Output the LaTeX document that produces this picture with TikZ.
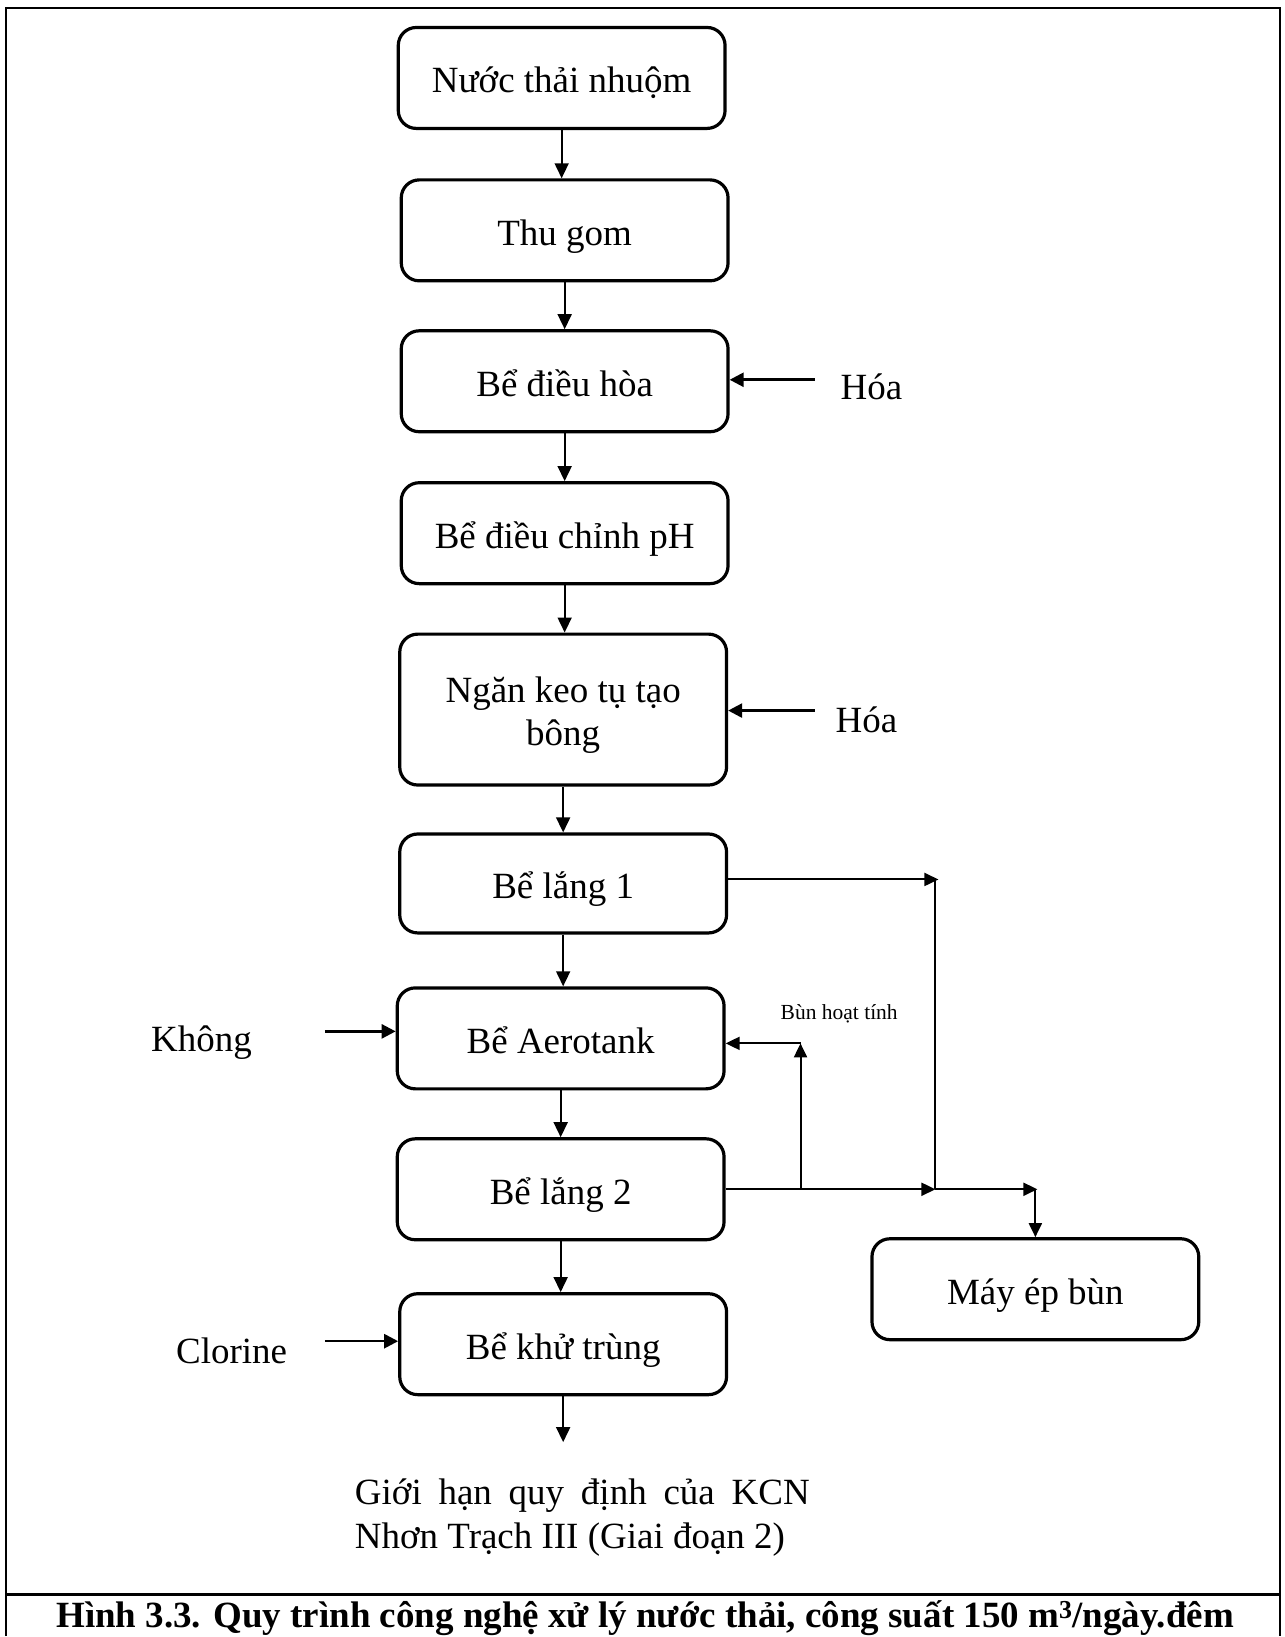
\documentclass[tikz,border=0pt]{standalone}
\usepackage{fontspec}
\setmainfont{Liberation Serif}
\usetikzlibrary{arrows.meta}
\begin{document}
\begin{tikzpicture}[x=1pt,y=-1pt,
  stage/.style={draw, line width=3.2pt, rounded corners=18pt,
    minimum width=327pt, minimum height=101pt, inner sep=0pt,
    align=center, font=\fontsize{37}{43}\selectfont,
    execute at begin node={\rule{0pt}{40pt}},
    execute at end node={\rule[-10pt]{0pt}{10pt}}},
  lbl/.style={inner sep=0pt, anchor=base west, font=\fontsize{37}{43}\selectfont},
  flow/.style={-{Triangle[length=15pt,width=14pt]}, line width=1.7pt},
  feed/.style={-{Triangle[length=14pt,width=14pt]}, line width=2.6pt},
  side/.style={-{Triangle[length=14pt,width=13pt]}, line width=2pt},
  pipe/.style={line width=2pt}]

% page background and frame
\fill[white] (0,0) rectangle (1285,1637);
\draw[line width=2pt] (6.5,1637) -- (6.5,8.5) -- (1281,8.5) -- (1281,1637);
\draw[line width=3pt] (6.5,1595) -- (1281,1595);

% process stages
\node[stage] (n1) at (562,78) {Nước thải nhuộm};
\node[stage] (n2) at (565,230.5) {Thu gom};
\node[stage] (n3) at (565,381.5) {Bể điều hòa};
\node[stage] (n4) at (565,533.5) {Bể điều chỉnh pH};
\node[stage, minimum height=151pt, execute at begin node={\rule{0pt}{82pt}}]
  (n5) at (563.5,710) {Ngăn keo tụ tạo\\bông};
\node[stage, minimum height=99pt] (n6) at (563.5,884) {Bể lắng 1};
\node[stage] (n7) at (561,1039) {Bể Aerotank};
\node[stage] (n8) at (561,1190) {Bể lắng 2};
\node[stage] (n9) at (563.5,1345) {Bể khử trùng};
\node[stage] (n10) at (1036,1290) {Máy ép bùn};

% main line
\draw[flow] (n1.south) -- (n1.south |- n2.north);
\draw[flow] (n2.south) -- (n2.south |- n3.north);
\draw[flow] (n3.south) -- (n3.south |- n4.north);
\draw[flow] (n4.south) -- (n4.south |- n5.north);
\draw[flow] (n5.south) -- (n5.south |- n6.north);
\draw[flow] (n6.south) -- (n6.south |- n7.north);
\draw[flow] (n7.south) -- (n7.south |- n8.north);
\draw[flow] (n8.south) -- (n8.south |- n9.north);
\coordinate (out) at (563.5,1443);
\draw[flow] (n9.south) -- (out);

% chemical and air dosing
\node[lbl] (h1) at (841,400) {Hóa};
\coordinate (h1s) at (815,380);
\draw[feed] (h1s) -- (h1s -| n3.east);
\node[lbl] (h2) at (836,733) {Hóa};
\coordinate (h2s) at (815,711);
\draw[feed] (h2s) -- (h2s -| n5.east);
\node[lbl] (air) at (151,1052) {Không};
\coordinate (airs) at (325,1032);
\draw[feed] (airs) -- (airs -| n7.west);
\node[lbl] (cl) at (176,1364) {Clorine};
\coordinate (cls) at (325,1342);
\draw[feed] (cls) -- (cls -| n9.west);

% sludge lines
\coordinate (j1) at (936,880);
\coordinate (j2) at (936,1190);
\coordinate (j3) at (1036,1190);
\coordinate (r1) at (801,1190);
\coordinate (r2) at (801,1044);
\draw[side] (n6.east |- j1) -- ([xshift=3pt]j1);
\draw[pipe] (j1) -- (j2);
\draw[side] (n8.east |- j2) -- (j2);
\draw[side] (j2) -- ([xshift=2pt]j3);
\draw[side] (j3) -- (n10.north);
\draw[side] (r1) -- (r2);
\draw[side] (r2) -- (r2 -| n7.east);
\node[inner sep=0pt, anchor=base west, font=\fontsize{21.5}{24}\selectfont] (ras) at (781,1020) {Bùn hoạt tính};

% discharge standard
\node[lbl] (lim1) at (355,1505) {\makebox[455pt][s]{Giới hạn quy định của KCN}};
\node[lbl] (lim2) at (355,1549) {Nhơn Trạch III (Giai đoạn 2)};

% caption
\node[inner sep=0pt, anchor=base, font=\fontsize{37}{43}\selectfont\bfseries] (cap) at (645.5,1628)
  {Hình 3.3. Quy trình công nghệ xử lý nước thải, công suất 150 m\textsuperscript{3}/ngày.đêm};
\end{tikzpicture}
\end{document}
